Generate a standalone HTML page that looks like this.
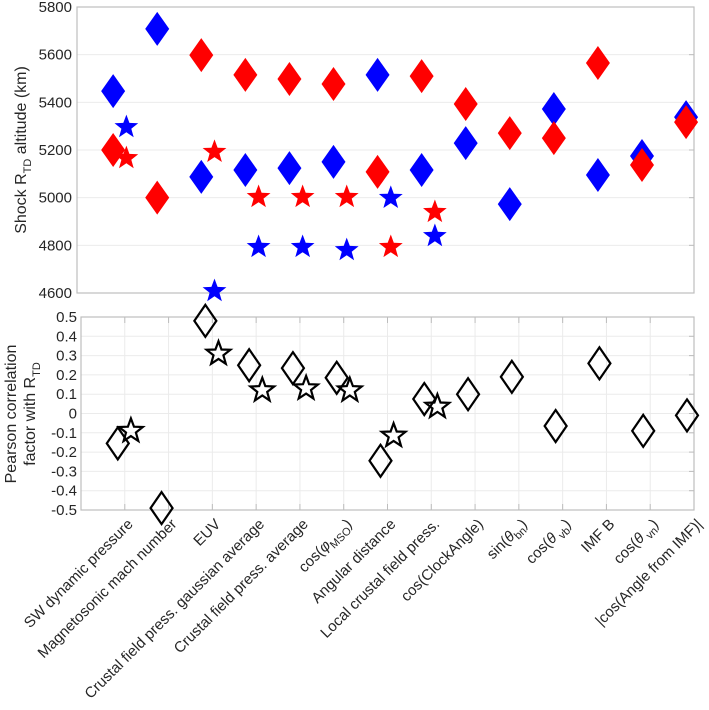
<!DOCTYPE html>
<html><head><meta charset="utf-8"><style>
body{margin:0;background:#fff;}
svg text{font-family:"Liberation Sans",sans-serif;fill:#262626;}
</style></head><body>
<svg id="chart" width="709" height="705" xmlns="http://www.w3.org/2000/svg"></svg>
<script>
const categories=["SW dynamic pressure","Magnetosonic mach number","EUV","Crustal field press. gaussian average","Crustal field press. average","cos(φMSO)","Angular distance","Local crustal field press.","cos(ClockAngle)","sin(θbn)","cos(θvb)","IMF B","cos(θvn)","|cos(Angle from IMF)|"];
const blueDiamond=[5447,5708,5087,5116,5124,5150,5515,5116,5229,4973,5372,5095,5175,5338];
const redDiamond=[5200,5000,5598,5515,5498,5477,5108,5510,5393,5271,5250,5565,5137,5317];
const blueStar=[5296,null,4608,4793,4793,4780,4999,4839,null,null,null,null,null,null];
const redStar=[5166,null,5192,5003,5003,5003,4793,4940,null,null,null,null,null,null];
const corrDiamond=[-0.155,-0.49,0.48,0.25,0.235,0.185,-0.245,0.075,0.1,0.19,-0.065,0.26,-0.09,-0.01];
const corrStar=[-0.09,null,0.31,0.12,0.13,0.12,-0.115,0.035,null,null,null,null,null,null];
const topTicks=[4600,4800,5000,5200,5400,5600,5800];
const botTicks=[-0.5,-0.4,-0.3,-0.2,-0.1,0,0.1,0.2,0.3,0.4,0.5];

const svg=document.getElementById('chart');
const NS='http://www.w3.org/2000/svg';
function mk(tag,attrs,parent){const e=document.createElementNS(NS,tag);for(const k in attrs)e.setAttribute(k,attrs[k]);(parent||svg).appendChild(e);return e;}

const T={x0:77,x1:694,y0:7,y1:293,vmin:4600,vmax:5800};
const B={x0:81,x1:694,y0:317,y1:510,vmin:-0.5,vmax:0.5};
const xT=v=>T.x0+v*(T.x1-T.x0)/14;
const yT=v=>T.y1-(v-T.vmin)*(T.y1-T.y0)/(T.vmax-T.vmin);
const xB=v=>B.x0+v*(B.x1-B.x0)/14;
const yB=v=>B.y1-(v-B.vmin)*(B.y1-B.y0)/(B.vmax-B.vmin);

function diamond(cx,cy,fill,stroke,g){
  const w=stroke==='none'?12:11,h=stroke==='none'?17:16;
  return mk('polygon',{points:`${cx},${cy-h} ${cx+w},${cy} ${cx},${cy+h} ${cx-w},${cy}`,fill:fill,stroke:stroke,'stroke-width':stroke==='none'?0:2.2},g);
}
function star(cx,cy,fill,stroke,g){
  const R=12.5,r=5.2;let p=[];
  for(let i=0;i<10;i++){const a=-Math.PI/2+i*Math.PI/5;const rr=i%2?r:R;p.push((cx+rr*Math.cos(a)).toFixed(1)+','+(cy+rr*Math.sin(a)).toFixed(1));}
  return mk('polygon',{points:p.join(' '),fill:fill,stroke:stroke,'stroke-width':stroke==='none'?0:2.2,'stroke-linejoin':'miter'},g);
}

const gt=mk('g',{});


mk('rect',{x:T.x0,y:T.y0,width:T.x1-T.x0,height:T.y1-T.y0,fill:'#fff'},gt);
topTicks.forEach(t=>{
  const y=yT(t);
  if(t>T.vmin&&t<T.vmax)mk('line',{x1:T.x0,x2:T.x1,y1:y,y2:y,stroke:'#ebebeb','stroke-width':1},gt);
  mk('line',{x1:T.x1-5,x2:T.x1,y1:y,y2:y,stroke:'#bdbdbd'},gt);
  const tx=mk('text',{x:T.x0-5,y:y+5,'text-anchor':'end','font-size':15,fill:'#404040'},gt);
  tx.textContent=t;
  
  
});
mk('rect',{x:T.x0,y:T.y0,width:T.x1-T.x0,height:T.y1-T.y0,fill:'none',stroke:'#bdbdbd','stroke-width':1.2},gt);
categories.forEach((c,i)=>{
  const k=i+1;
  let e;
  e=diamond(xT(k-0.18),yT(blueDiamond[i]),'#0000ff','none',gt);
  
  
  e=diamond(xT(k-0.18),yT(redDiamond[i]),'#ff0000','none',gt);
  
  
  if(blueStar[i]!=null){e=star(xT(k+0.12),yT(blueStar[i]),'#0000ff','none',gt);
  
  }
  if(redStar[i]!=null){e=star(xT(k+0.12),yT(redStar[i]),'#ff0000','none',gt);
  
  }
});
const yl1=mk('text',{transform:'translate(26,150) rotate(-90)','text-anchor':'middle','font-size':16,fill:'#262626'});


yl1.innerHTML='Shock R<tspan dy="5" font-size="11">TD</tspan><tspan dy="-5"> altitude (km)</tspan>';

const gb=mk('g',{});


botTicks.forEach(t=>{
  const y=yB(t);
  mk('line',{x1:B.x0,x2:B.x1,y1:y,y2:y,stroke:'#ebebeb'},gb);
  mk('line',{x1:B.x1-5,x2:B.x1,y1:y,y2:y,stroke:'#bdbdbd'},gb);
  const tx=mk('text',{x:B.x0-4,y:y+5,'text-anchor':'end','font-size':15,fill:'#404040'},gb);
  tx.textContent=String(t);
  
  
});
categories.forEach((c,i)=>{
  const x=xB(i+1);
  mk('line',{x1:x,x2:x,y1:B.y0,y2:B.y1,stroke:'#ebebeb'},gb);
  mk('line',{x1:x,x2:x,y1:B.y0,y2:B.y0+6,stroke:'#bdbdbd'},gb);
  mk('line',{x1:x,x2:x,y1:B.y1,y2:B.y1-6,stroke:'#bdbdbd'},gb);
});
mk('rect',{x:B.x0,y:B.y0,width:B.x1-B.x0,height:B.y1-B.y0,fill:'none',stroke:'#bdbdbd','stroke-width':1.2},gb);
categories.forEach((c,i)=>{
  const k=i+1;let e;
  e=diamond(xB(k-0.16),yB(corrDiamond[i]),'none','#000',gb);
  
  
  if(corrStar[i]!=null){e=star(xB(k+0.14),yB(corrStar[i]),'none','#000',gb);
  
  }
});
const yl2=mk('text',{transform:'translate(16,414) rotate(-90)','text-anchor':'middle','font-size':16});


yl2.innerHTML='<tspan x="0" dy="0">Pearson correlation</tspan><tspan x="0" dy="19">factor with R</tspan><tspan dy="5" font-size="11">TD</tspan>';

const labelHTML=["SW dynamic pressure","Magnetosonic mach number","EUV","Crustal field press. gaussian average","Crustal field press. average",
'cos(<tspan font-style="italic">φ</tspan><tspan dy="4" font-size="11">MSO</tspan><tspan dy="-4">)</tspan>',
"Angular distance","Local crustal field press.","cos(ClockAngle)",
'sin(<tspan font-style="italic">θ</tspan><tspan dy="4" font-size="11">bn</tspan><tspan dy="-4">)</tspan>',
'cos(<tspan font-style="italic">θ</tspan><tspan dy="4" font-size="11"> vb</tspan><tspan dy="-4">)</tspan>',
"IMF B",
'cos(<tspan font-style="italic">θ</tspan><tspan dy="4" font-size="11"> vn</tspan><tspan dy="-4">)</tspan>',
"|cos(Angle from IMF)|"];
categories.forEach((c,i)=>{
  const x=xB(i+1)+9,y=B.y1+15;
  const t=mk('text',{transform:`translate(${x},${y}) rotate(-45)`,'text-anchor':'end','font-size':15,fill:'#262626'});
  t.innerHTML=labelHTML[i];
  
  
});
</script>
</body></html>
